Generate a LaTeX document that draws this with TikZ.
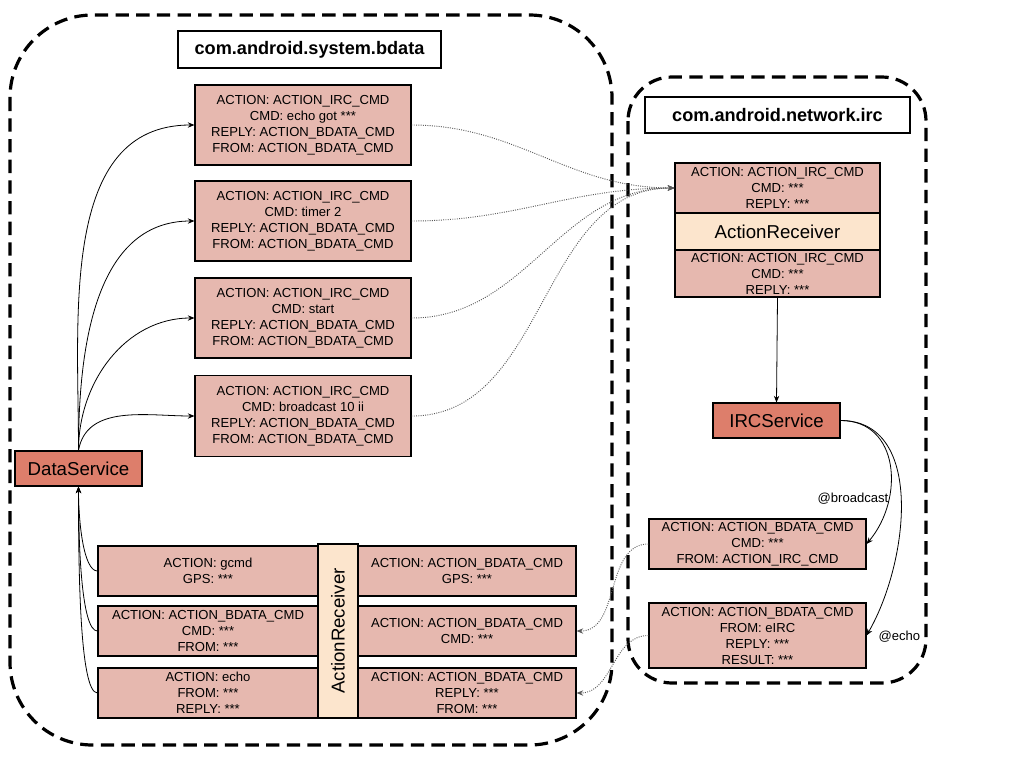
\documentclass[tikz,border=0pt]{standalone}
\usepackage{fontspec}
\setmainfont{Liberation Sans}
\usetikzlibrary{arrows.meta}
\definecolor{msgfill}{HTML}{E6B8AF}
\definecolor{svcfill}{HTML}{DD7E6B}
\definecolor{rcvfill}{HTML}{FCE5CD}
\begin{document}
\begin{tikzpicture}[x=0.75pt,y=-0.75pt,
  outer/.style={draw=black, line width=2.4pt, dash pattern=on 10pt off 5.5pt},
  title/.style={draw=black, line width=1.4pt, fill=white, inner sep=0pt, font=\fontsize{13.6}{16}\selectfont\bfseries},
  msg/.style={draw=black, line width=0.8pt, fill=msgfill, inner sep=0pt, align=center, font=\fontsize{9.8}{12}\selectfont},
  svc/.style={draw=black, line width=0.8pt, fill=svcfill, inner sep=0pt, font=\fontsize{14}{16}\selectfont},
  rcv/.style={draw=black, line width=0.8pt, fill=rcvfill, inner sep=0pt, font=\fontsize{14}{16}\selectfont},
  conn/.style={line width=0.6pt, -{Stealth[length=5pt,width=4pt]}},
  dconn/.style={line width=0.7pt, densely dotted, draw=black!65, -{Stealth[length=5pt,width=4pt]}},
  lbl/.style={font=\fontsize{9.8}{12}\selectfont, inner sep=1pt}
]
\useasboundingbox (0,0) rectangle (1024,768);
\fill[white] (0,0) rectangle (1024,768);

% containers
\draw[outer, rounded corners=62pt] (10,15) rectangle (612,745);
\draw[outer, rounded corners=33pt] (628,77) rectangle (926,683);

\node[title, minimum width=197pt, minimum height=27.75pt] (t1) at (309.5,49.5) {com.android.system.bdata};
\node[title, minimum width=198.75pt, minimum height=27pt] (t2) at (777.5,115) {com.android.network.irc};

% left command boxes
\node[msg, minimum width=162pt, minimum height=60pt] (c1) at (303,125) {ACTION: ACTION\_IRC\_CMD\\CMD: echo got ***\\REPLY: ACTION\_BDATA\_CMD\\FROM: ACTION\_BDATA\_CMD};
\node[msg, minimum width=162pt, minimum height=60pt] (c2) at (303,221) {ACTION: ACTION\_IRC\_CMD\\CMD: timer 2\\REPLY: ACTION\_BDATA\_CMD\\FROM: ACTION\_BDATA\_CMD};
\node[msg, minimum width=162pt, minimum height=60pt] (c3) at (303,318) {ACTION: ACTION\_IRC\_CMD\\CMD: start\\REPLY: ACTION\_BDATA\_CMD\\FROM: ACTION\_BDATA\_CMD};
\node[msg, minimum width=162pt, minimum height=61pt] (c4) at (303,416) {ACTION: ACTION\_IRC\_CMD\\CMD: broadcast 10 ii\\REPLY: ACTION\_BDATA\_CMD\\FROM: ACTION\_BDATA\_CMD};

\node[svc, minimum width=95.25pt, minimum height=26.25pt] (ds) at (78.5,468.5) {DataService};

% bottom receiver table
\node[msg, minimum width=165pt, minimum height=37.5pt] (l1) at (208,571) {ACTION: gcmd\\GPS: ***};
\node[msg, minimum width=165pt, minimum height=37.5pt] (l2) at (208,631) {ACTION: ACTION\_BDATA\_CMD\\CMD: ***\\FROM: ***};
\node[msg, minimum width=165pt, minimum height=37.5pt] (l3) at (208,693) {ACTION: echo\\FROM: ***\\REPLY: ***};
\node[msg, minimum width=163.5pt, minimum height=37.5pt] (r1) at (467,571) {ACTION: ACTION\_BDATA\_CMD\\GPS: ***};
\node[msg, minimum width=163.5pt, minimum height=37.5pt] (r2) at (467,631) {ACTION: ACTION\_BDATA\_CMD\\CMD: ***};
\node[msg, minimum width=163.5pt, minimum height=37.5pt] (r3) at (467,693) {ACTION: ACTION\_BDATA\_CMD\\REPLY: ***\\FROM: ***};
\node[rcv, minimum width=30pt, minimum height=130.5pt] (ar1) at (338,631) {};
\node[font=\fontsize{14}{16}\selectfont, rotate=90, inner sep=0pt] (ar1t) at (ar1.center) {ActionReceiver};

% right side IRC block
\node[msg, minimum width=153.75pt, minimum height=37.5pt] (i1) at (777.5,188) {ACTION: ACTION\_IRC\_CMD\\CMD: ***\\REPLY: ***};
\node[rcv, minimum width=153.75pt, minimum height=27.75pt] (ar2) at (777.5,231.5) {ActionReceiver};
\node[msg, minimum width=153.75pt, minimum height=35.25pt] (i2) at (777.5,273.5) {ACTION: ACTION\_IRC\_CMD\\CMD: ***\\REPLY: ***};

\node[svc, minimum width=95.25pt, minimum height=26.25pt] (irc) at (776.5,420.5) {IRCService};

\node[msg, minimum width=162.75pt, minimum height=37.5pt] (b1) at (757.5,544) {ACTION: ACTION\_BDATA\_CMD\\CMD: ***\\FROM: ACTION\_IRC\_CMD};
\node[msg, minimum width=162.75pt, minimum height=48.75pt] (b2) at (757.5,635.5) {ACTION: ACTION\_BDATA\_CMD\\FROM: eIRC\\REPLY: ***\\RESULT: ***};

% DataService -> commands
\draw[conn] (ds.north) to[out=90,in=180] (c1.west);
\draw[conn] (ds.north) to[out=90,in=180] (c2.west);
\draw[conn] (ds.north) to[out=90,in=180] (c3.west);
\draw[conn] (ds.north) to[out=80,in=180] (c4.west);

% receiver -> DataService
\draw[conn] (l1.west) .. controls +(-14,0) and +(0,35) .. (ds.south);
\draw[conn] (l2.west) .. controls +(-16,0) and +(0,60) .. (ds.south);
\draw[conn] (l3.west) .. controls +(-18,0) and +(0,80) .. (ds.south);

% commands -> IRC receiver
\coordinate (iin) at (i1.west);
\draw[dconn] (c1.east) to[out=0,in=180] (iin);
\draw[dconn] (c2.east) to[out=0,in=180] (iin);
\draw[dconn] (c3.east) to[out=0,in=180] (iin);
\draw[dconn] (c4.east) to[out=0,in=180] (iin);

\draw[conn] (i2.south) -- (irc.north);

\draw[conn] (irc.east) to[out=0,in=50,looseness=1.2] (b1.east);
\draw[conn] (irc.east) to[out=0,in=60] (b2.east);
\node[lbl, anchor=center] (lb1) at (853,499) {@broadcast};
\node[lbl, anchor=west] (lb2) at (877,637) {@echo};

% replies back to bdata
\draw[dconn] (b1.west) to[out=180,in=0] (r2.east);
\draw[dconn] (b2.west) to[out=180,in=0] (r3.east);
\end{tikzpicture}
\end{document}
